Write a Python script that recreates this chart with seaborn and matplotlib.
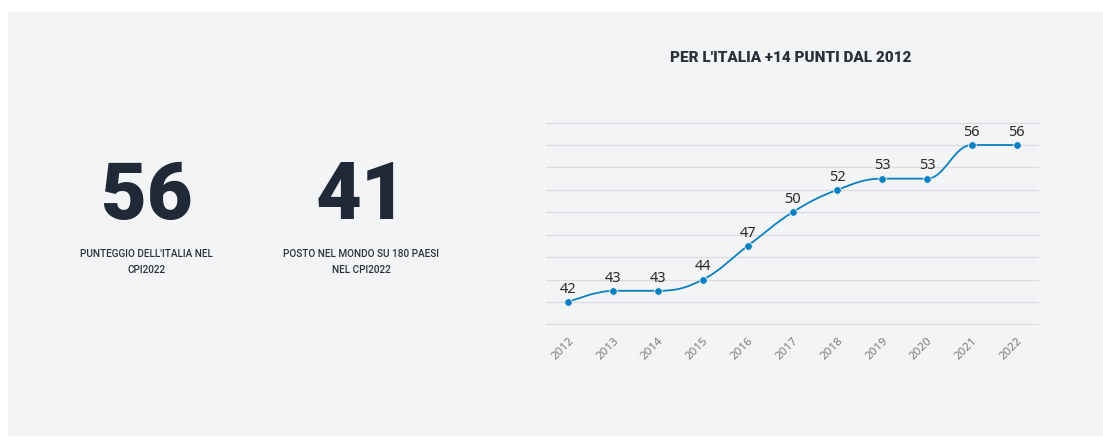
import matplotlib
matplotlib.use("Agg")
import matplotlib.pyplot as plt
from matplotlib.path import Path
from matplotlib.patches import PathPatch, Rectangle
import seaborn as sns
import pandas as pd

# ---- data ----
years = ['2012', '2013', '2014', '2015', '2016', '2017', '2018', '2019', '2020', '2021', '2022']
scores = [42, 43, 43, 44, 47, 50, 52, 53, 53, 56, 56]
kpi_values = ['56', '41']
kpi_captions = ["PUNTEGGIO DELL'ITALIA NEL\nCPI2022", "POSTO NEL MONDO SU 180 PAESI\nNEL CPI2022"]
title = "PER L'ITALIA +14 PUNTI DAL 2012"
y_gridticks = [40, 42, 44, 46, 48, 50, 52, 54, 56, 58]

BG = '#f3f4f6'
LINE = '#0b80c3'
DARK = '#1f2937'

sns.set_theme(style='white')
plt.rcParams['font.family'] = ['Roboto', 'DejaVu Sans']

W, H = 1103, 439
fig = plt.figure(figsize=(W / 100, H / 100), dpi=100)
fig.patch.set_facecolor('white')
fig.patches.append(Rectangle((8 / W, (H - 437) / H), (W - 8) / W, (437 - 13) / H,
                             transform=fig.transFigure, facecolor=BG, edgecolor='none', zorder=-10))

ax = fig.add_axes([546 / W, 1 - 326 / H, (1039 - 546) / W, (326 - 123) / H])
ax.set_facecolor('none')
ax.set_zorder(2)

df = pd.DataFrame({'year': years, 'score': scores})
xs = list(range(len(years)))


def spline_path(xv, yv, smoothing=1.5):
    n = len(xv)
    lc = [None] * n
    rc = [None] * n
    d = smoothing + 1
    for i in range(1, n - 1):
        px, py = xv[i], yv[i]
        lx, ly = xv[i - 1], yv[i - 1]
        nx, ny = xv[i + 1], yv[i + 1]
        lcx = (smoothing * px + lx) / d
        lcy = (smoothing * py + ly) / d
        rcx = (smoothing * px + nx) / d
        rcy = (smoothing * py + ny) / d
        if rcx != lcx:
            corr = ((rcy - lcy) * (rcx - px)) / (rcx - lcx) + py - rcy
            lcy += corr
            rcy += corr
        if lcy > ly and lcy > py:
            lcy = max(ly, py); rcy = 2 * py - lcy
        elif lcy < ly and lcy < py:
            lcy = min(ly, py); rcy = 2 * py - lcy
        if rcy > ny and rcy > py:
            rcy = max(ny, py); lcy = 2 * py - rcy
        elif rcy < ny and rcy < py:
            rcy = min(ny, py); lcy = 2 * py - rcy
        lc[i] = (lcx, lcy)
        rc[i] = (rcx, rcy)
    verts = [(xv[0], yv[0])]
    codes = [Path.MOVETO]
    for i in range(1, n):
        c1 = rc[i - 1] if rc[i - 1] is not None else (xv[i - 1], yv[i - 1])
        c2 = lc[i] if lc[i] is not None else (xv[i], yv[i])
        verts += [c1, c2, (xv[i], yv[i])]
        codes += [Path.CURVE4] * 3
    return Path(verts, codes)


ax.add_patch(PathPatch(spline_path(xs, scores), facecolor='none', edgecolor=LINE, lw=1.3, zorder=3))
sns.scatterplot(data=df, x='year', y='score', ax=ax, color=LINE, s=30, edgecolor=BG,
                linewidth=0.6, zorder=4, legend=False)

lab_font = ['Noto Sans', 'DejaVu Sans']
for x, v in zip(xs, scores):
    ax.annotate(str(v), (x, v), xytext=(0, 4.5), textcoords='offset points', ha='center', va='bottom',
                fontsize=10.5, color='#2a2a2a', zorder=5, family=lab_font)

ax.set_xlim(-0.5, len(years) - 0.5)
ax.set_ylim(39.95, 58.05)
ax.set_yticks(y_gridticks)
ax.yaxis.grid(True, color='#dadcdf', lw=0.9)
ax.xaxis.grid(False)
ax.set_yticklabels([])
ax.set_xticks(xs)
ax.set_xticklabels(years, rotation=45, ha='right', rotation_mode='anchor', fontsize=8.3,
                   color='#7a7a7a', family=lab_font)
ax.tick_params(axis='both', length=0)
ax.tick_params(axis='x', pad=7)
ax.set_xlabel('')
ax.set_ylabel('')
for s in ax.spines.values():
    s.set_visible(False)

cond = ['Roboto', 'DejaVu Sans']
fig.text(791 / W, 1 - 58 / H, title, ha='center', va='center', fontsize=11, fontweight='heavy',
         color='#2b303b', family=cond)

kpi_x = [146.5, 361]
for kx, val, cap in zip(kpi_x, kpi_values, kpi_captions):
    fig.text(kx / W, 1 - 197 / H, val, ha='center', va='center', fontsize=57, fontweight='heavy',
             color=DARK, family=cond)
    fig.text(kx / W, 1 - 262 / H, cap, ha='center', va='center', fontsize=7.2, color='#2b303b',
             family=cond, linespacing=1.75, fontweight='medium')

fig.savefig('out.png', dpi=100, facecolor='white')
